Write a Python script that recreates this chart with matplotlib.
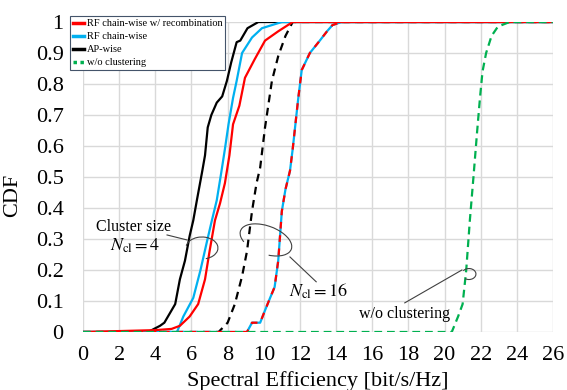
import numpy as np
import matplotlib
matplotlib.use("Agg")
import matplotlib.pyplot as plt
from matplotlib.patches import Arc
from matplotlib.lines import Line2D
from matplotlib.transforms import IdentityTransform

plt.rcParams['font.family'] = ['Liberation Serif', 'DejaVu Serif']
plt.rcParams['mathtext.fontset'] = 'stix'

# ---- data (spectral efficiency [bit/s/Hz], CDF) ----
# cluster size N_cl = 4
ap4_x = [0, 3.6, 4.26, 4.5, 4.8, 5.1, 5.36, 5.64, 5.9, 6.1, 6.3, 6.6, 6.75, 6.9,
         7.1, 7.4, 7.7, 7.96, 8.2, 8.5, 8.7, 9.1, 9.7, 26]
ap4_y = [0, 0, 0.02, 0.03, 0.06, 0.09, 0.17, 0.23, 0.31, 0.36, 0.425, 0.52, 0.57, 0.66,
         0.70, 0.74, 0.76, 0.81, 0.87, 0.935, 0.94, 0.98, 1.0, 1.0]

rf4_x = [0, 5.2, 5.55, 6.1, 6.5, 6.85, 7.13, 7.4, 7.65, 7.85, 8.05, 8.3, 8.5, 8.8,
         9.35, 9.9, 11.0, 26]
rf4_y = [0, 0, 0.05, 0.11, 0.20, 0.29, 0.36, 0.425, 0.515, 0.59, 0.67, 0.755, 0.81, 0.90,
         0.95, 0.98, 1.0, 1.0]

rec4_x = [0, 4.0, 4.9, 5.36, 5.9, 6.37, 6.75, 7.0, 7.3, 7.58, 7.85, 8.1, 8.3, 8.65,
          8.96, 9.5, 10.07, 10.8, 11.6, 26]
rec4_y = [0, 0.006, 0.01, 0.02, 0.05, 0.09, 0.17, 0.26, 0.36, 0.415, 0.48, 0.57, 0.67, 0.73,
          0.82, 0.88, 0.94, 0.97, 1.0, 1.0]

# cluster size N_cl = 16
ap16_x = [0, 7.5, 8.0, 8.4, 8.8, 9.07, 9.35, 9.6, 9.8, 10.07, 10.45, 10.8, 11.2, 11.6, 26]
ap16_y = [0, 0, 0.03, 0.09, 0.18, 0.26, 0.39, 0.48, 0.53, 0.66, 0.81, 0.89, 0.955, 1.0, 1.0]

rf16_x = [0, 9.07, 9.35, 9.8, 10.07, 10.35, 10.6, 10.8, 10.9, 11.0, 11.2, 11.45, 11.6,
          11.9, 12.1, 12.55, 13.1, 13.5, 13.8, 14.3, 26]
rf16_y = [0, 0, 0.03, 0.03, 0.07, 0.11, 0.145, 0.23, 0.31, 0.39, 0.46, 0.52, 0.59,
          0.75, 0.845, 0.90, 0.94, 0.97, 0.99, 1.0, 1.0]
rec16_x = rf16_x
rec16_y = rf16_y

# no clustering
noc_x = [0, 20.4, 20.75, 21.0, 21.2, 21.4, 21.6, 21.8, 21.96, 22.1, 22.3, 22.6, 22.95, 23.6, 26]
noc_y = [0, 0, 0.05, 0.09, 0.20, 0.36, 0.50, 0.645, 0.755, 0.84, 0.90, 0.955, 0.985, 1.0, 1.0]

x_ticks = np.arange(0, 27, 2)
y_ticks = np.round(np.arange(0, 1.01, 0.1), 1)
y_labels = ['0'] + ['%.1f' % v for v in y_ticks[1:-1]] + ['1']

RED = '#ff0000'
CYAN = '#00b0f0'
GREEN = '#00b050'
GREY = '#404040'
lw = 1.6

fig = plt.figure(figsize=(5.67, 3.9), dpi=100)
ax = fig.add_axes([83 / 567, 1 - 332 / 390, 470 / 567, 310 / 390])

ax.plot(ap4_x, ap4_y, color='black', lw=lw, zorder=3)
ax.plot(rf4_x, rf4_y, color=CYAN, lw=lw, zorder=4)
ax.plot(rec4_x, rec4_y, color=RED, lw=lw, zorder=5)
ax.plot(ap16_x, ap16_y, color='black', lw=lw, ls=(0, (3.5, 2.5)), zorder=3)
ax.plot(rf16_x, rf16_y, color=CYAN, lw=lw, zorder=4)
ax.plot(rec16_x, rec16_y, color=RED, lw=lw, ls=(0, (3, 3)), zorder=5)
ax.plot(noc_x, noc_y, color=GREEN, lw=lw, ls=(0, (3.5, 2.2)), zorder=6)

ax.set_xlim(0, 26)
ax.set_ylim(0, 1)
ax.set_xticks(x_ticks)
ax.set_yticks(y_ticks)
ax.set_yticklabels(y_labels)
ax.grid(True, color='#d9d9d9', lw=1.0)
ax.set_axisbelow(True)
for s in ax.spines.values():
    s.set_visible(False)
ax.tick_params(length=0, labelsize=16)
ax.tick_params(axis='x', pad=10)
ax.tick_params(axis='y', pad=14)

ax.set_xlabel('Spectral Efficiency [bit/s/Hz]', fontsize=16)
ax.xaxis.set_label_coords(0.5, -0.127)
ax.set_ylabel('CDF', fontsize=16)
ax.yaxis.set_label_coords(-0.13, 0.44)


def ring(xc, yc, w, h, angle, t1, t2):
    # arc drawn in pixels around a data point
    px, py = ax.transData.transform((xc, yc))
    ax.add_patch(Arc((px, py), w, h, angle=angle, theta1=t1, theta2=t2,
                     transform=IdentityTransform(), color=GREY, lw=0.8, zorder=7))


# annotations
ax.text(2.82, 0.339, 'Cluster size', fontsize=11.5, ha='center', va='center')
ax.text(2.9, 0.278, r'$N_{\rm cl}=4$', fontsize=13, ha='center', va='center')
ax.plot([4.65, 5.75], [0.313, 0.297], color=GREY, lw=0.8, zorder=7)
ring(6.58, 0.271, 32, 22, 0, -70, 172)

ax.text(13.05, 0.132, r'$N_{\rm cl}=16$', fontsize=13, ha='center', va='center')
ring(10.12, 0.297, 54, 28, -20, -60, 205)
ax.plot([11.45, 12.9], [0.242, 0.162], color=GREY, lw=0.8, zorder=7)

ax.text(17.8, 0.057, 'w/o clustering', fontsize=11.5, ha='center', va='center')
ax.plot([17.8, 20.96], [0.094, 0.2], color=GREY, lw=0.8, zorder=7)
ring(21.35, 0.187, 14, 11, 0, -130, 150)

handles = [Line2D([], [], color=RED, lw=2.5),
           Line2D([], [], color=CYAN, lw=2.5),
           Line2D([], [], color='black', lw=2.5),
           Line2D([], [], color=GREEN, lw=2.5, ls=(0, (1, 1)))]
labels = ['RF chain-wise w/ recombination', 'RF chain-wise', 'AP-wise', 'w/o clustering']
leg = fig.legend(handles, labels, loc='upper left', bbox_to_anchor=(70 / 567, 1 - 16 / 390),
                 fontsize=7.5, frameon=True, fancybox=False, handlelength=1.0,
                 handletextpad=0.3, borderpad=0.3, labelspacing=0.35, borderaxespad=0)
leg.get_frame().set_edgecolor('#44546a')
leg.get_frame().set_linewidth(0.8)
leg.get_frame().set_alpha(1)

fig.savefig('out.png', dpi=100)
